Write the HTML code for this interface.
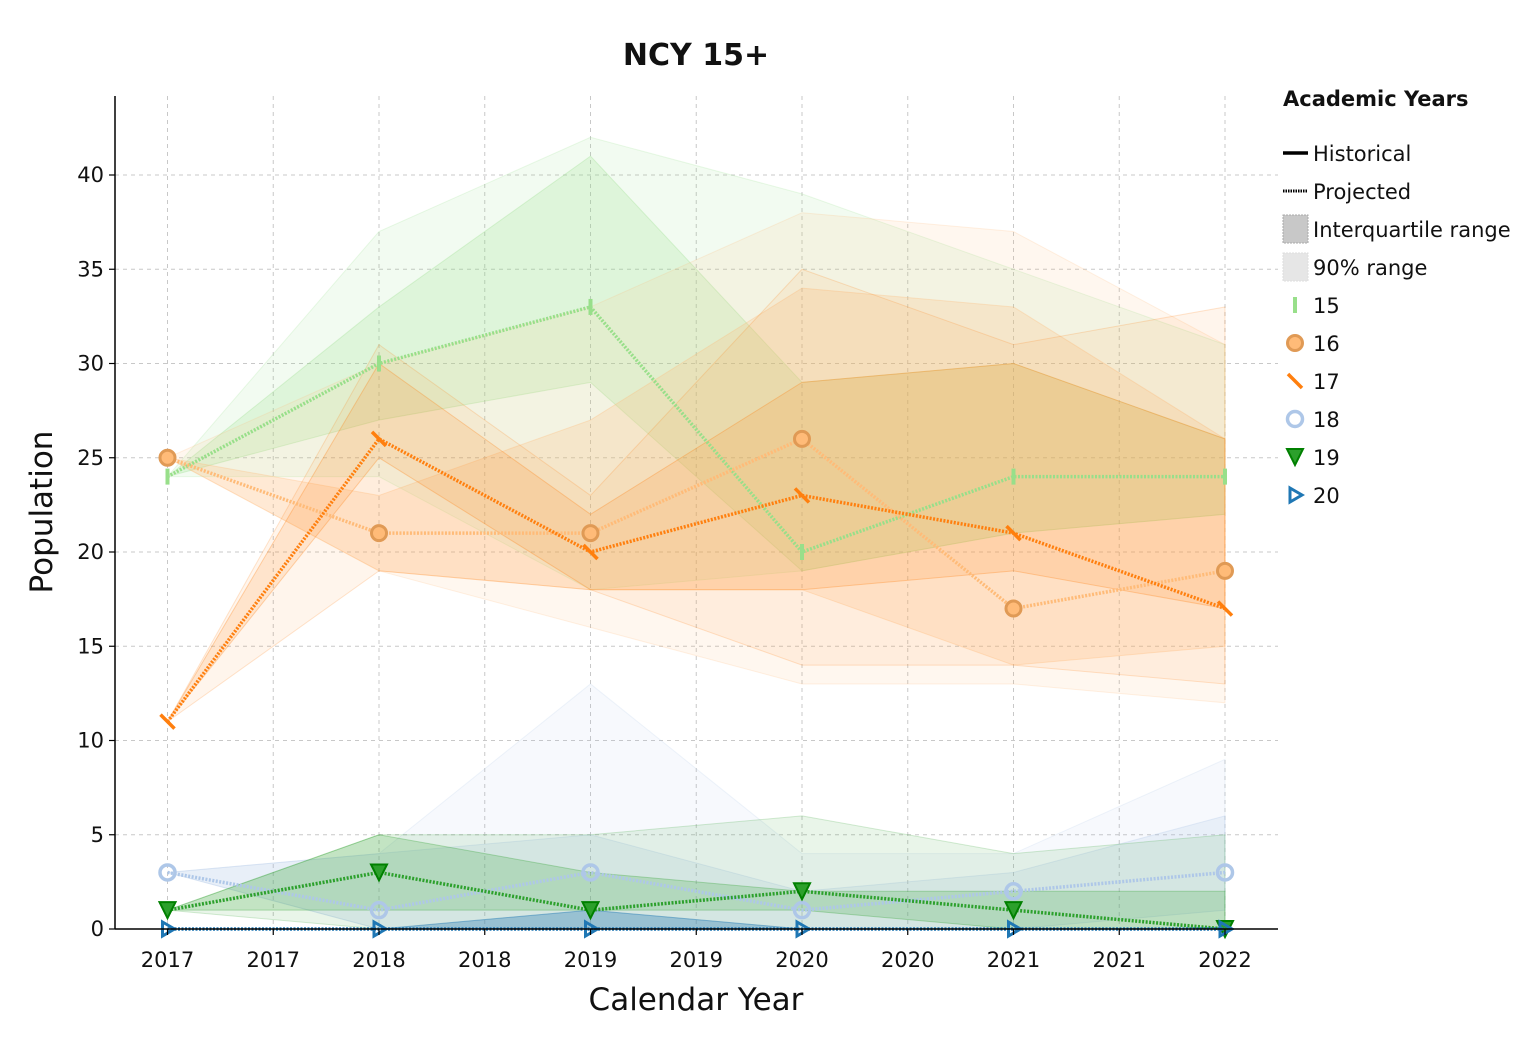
<!DOCTYPE html>
<html><head><meta charset="utf-8">
<style>
html,body{margin:0;padding:0;background:#fff;}
svg text{font-family:"DejaVu Sans","Liberation Sans",sans-serif;fill:#111;}
</style></head>
<body>
<svg id="chart" width="1539" height="1037" xmlns="http://www.w3.org/2000/svg">
<text x="696" y="65" font-size="30" font-weight="bold" text-anchor="middle">NCY 15+</text>
<g id="grid"></g>
<g id="bands"></g>
<g id="lines"></g>
<g id="axes"></g>
<text transform="translate(52,512) rotate(-90)" font-size="31" text-anchor="middle">Population</text>
<text x="696" y="1010" font-size="31" text-anchor="middle">Calendar Year</text>
<g id="legend"></g>
</svg>
<script>
const years = [2017, 2018, 2019, 2020, 2021, 2022];
const xTickLabels = ["2017","2017","2018","2018","2019","2019","2020","2020","2021","2021","2022"];
const yTicks = [0, 5, 10, 15, 20, 25, 30, 35, 40];
const seriesNames = ["15","16","17","18","19","20"];
const s15 = [24, 30, 33, 20, 24, 24];
const s16 = [25, 21, 21, 26, 17, 19];
const s17 = [11, 26, 20, 23, 21, 17];
const s18 = [3, 1, 3, 1, 2, 3];
const s19 = [1, 3, 1, 2, 1, 0];
const s20 = [0, 0, 0, 0, 0, 0];
const q05_15 = [24, 24, 18, 19, 21, 22], q25_15 = [24, 27, 29, 19, 21, 22], q75_15 = [24, 33, 41, 29, 30, 26], q95_15 = [24, 37, 42, 39, 35, 31];
const q05_16 = [25, 19, 16, 13, 13, 12], q25_16 = [25, 19, 18, 18, 14, 15], q75_16 = [25, 23, 27, 34, 33, 26], q95_16 = [25, 30, 33, 38, 37, 31];
const q05_17 = [11, 19, 18, 14, 14, 13], q25_17 = [11, 25, 18, 18, 19, 17], q75_17 = [11, 30, 22, 29, 30, 26], q95_17 = [11, 31, 23, 35, 31, 33];
const q05_18 = [3, 0, 0, 0, 0, 0], q25_18 = [3, 0, 0, 0, 0, 1], q75_18 = [3, 4, 5, 2, 3, 6], q95_18 = [3, 4, 13, 4, 4, 9];
const q05_19 = [1, 0, 0, 0, 0, 0], q25_19 = [1, 1, 1, 1, 0, 0], q75_19 = [1, 5, 3, 2, 2, 2], q95_19 = [1, 5, 5, 6, 4, 5];
const q05_20 = [0, 0, 0, 0, 0, 0], q25_20 = [0, 0, 0, 0, 0, 0], q75_20 = [0, 0, 1, 0, 0, 0], q95_20 = [0, 0, 1, 0, 0, 0];

const NS = "http://www.w3.org/2000/svg";
const X0 = 115, X1 = 1278, YT = 96, YB = 929;
function xs(yr){ return 167.5 + (yr - 2017) * 211.5; }
function ys(v){ return 929 - v * 18.85; }
function mk(tag, attrs, parent){ const e = document.createElementNS(NS, tag); for (const k in attrs) e.setAttribute(k, attrs[k]); parent.appendChild(e); return e; }

const grid = document.getElementById('grid');
const axes = document.getElementById('axes');
for (let i = 0; i < xTickLabels.length; i++) {
  const yr = 2017 + i * 0.5, x = xs(yr);
  const gl = mk('line', {x1:x, x2:x, y1:YT, y2:YB, stroke:'#c8c8c8', 'stroke-dasharray':'4,4', 'stroke-width':1}, grid);
  
  
  const tk = mk('line', {x1:x, x2:x, y1:YB, y2:YB+6, stroke:'#000', 'stroke-width':1.2}, axes);
  
  
  const t = mk('text', {x:x, y:967, 'font-size':21, 'text-anchor':'middle'}, axes);
  t.textContent = xTickLabels[i];
  
  
}
for (const v of yTicks) {
  const y = ys(v);
  const gl = mk('line', {x1:X0, x2:X1, y1:y, y2:y, stroke:'#c8c8c8', 'stroke-dasharray':'4,4', 'stroke-width':1}, grid);
  
  
  const tk = mk('line', {x1:X0-6, x2:X0, y1:y, y2:y, stroke:'#000', 'stroke-width':1.2}, axes);
  
  
  const t = mk('text', {x:104, y:y+7, 'font-size':21, 'text-anchor':'end'}, axes);
  t.textContent = String(v);
  
  
}
const sp1 = mk('line', {x1:X0, x2:X0, y1:YT, y2:YB, stroke:'#000', 'stroke-width':1.5}, axes);


const sp2 = mk('line', {x1:X0, x2:X1, y1:YB, y2:YB, stroke:'#000', 'stroke-width':1.5}, axes);



const series = [
  {name:'15', vals:s15, q05:q05_15, q25:q25_15, q75:q75_15, q95:q95_15, band:'#98df8a', line:'#98df8a', mark:'tick'},
  {name:'16', vals:s16, q05:q05_16, q25:q25_16, q75:q75_16, q95:q95_16, band:'#ffbb78', line:'#ffbb78', mark:'circle'},
  {name:'17', vals:s17, q05:q05_17, q25:q25_17, q75:q75_17, q95:q95_17, band:'#ff7f0e', line:'#ff7f0e', mark:'slash'},
  {name:'18', vals:s18, q05:q05_18, q25:q25_18, q75:q75_18, q95:q95_18, band:'#aec7e8', line:'#aec7e8', mark:'ring'},
  {name:'19', vals:s19, q05:q05_19, q25:q25_19, q75:q75_19, q95:q95_19, band:'#2ca02c', line:'#2ca02c', mark:'tri'},
  {name:'20', vals:s20, q05:q05_20, q25:q25_20, q75:q75_20, q95:q95_20, band:'#1f77b4', line:'#1f77b4', mark:'play'}
];
const bandOp90 = {'15':0.12,'16':0.12,'17':0.08,'18':0.1,'19':0.1,'20':0.1};
const bandOpIqr = {'15':0.22,'16':0.22,'17':0.14,'18':0.2,'19':0.2,'20':0.25};
function bandPath(lo, hi){
  let d = '';
  years.forEach((yr,i)=>{ d += (i?'L':'M') + xs(yr) + ',' + ys(hi[i]); });
  for (let i = years.length-1; i >= 0; i--) d += 'L' + xs(years[i]) + ',' + ys(lo[i]);
  return d + 'Z';
}
const bands = document.getElementById('bands');
const lines = document.getElementById('lines');
function drawMarker(s, x, y, parent){
  let m;
  if (s.mark === 'tick') m = mk('line', {x1:x, x2:x, y1:y-8, y2:y+8, stroke:'#98df8a', 'stroke-width':4}, parent);
  else if (s.mark === 'circle') m = mk('circle', {cx:x, cy:y, r:7.5, fill:'#ffbb78', stroke:'#e09a55', 'stroke-width':3}, parent);
  else if (s.mark === 'slash') m = mk('line', {x1:x-7, y1:y-7, x2:x+7, y2:y+7, stroke:'#ff7f0e', 'stroke-width':3.5}, parent);
  else if (s.mark === 'ring') m = mk('circle', {cx:x, cy:y, r:7.5, fill:'none', stroke:'#aec7e8', 'stroke-width':3.5}, parent);
  else if (s.mark === 'tri') m = mk('path', {d:`M${x-8},${y-8}L${x+8},${y-8}L${x},${y+8}Z`, fill:'#2ca02c', stroke:'#008000', 'stroke-width':2}, parent);
  else m = mk('path', {d:`M${x-5},${y-7}L${x+7},${y}L${x-5},${y+7}Z`, fill:'none', stroke:'#1f77b4', 'stroke-width':3}, parent);
  return m;
}
series.forEach(s=>{
  const b1 = mk('path', {d:bandPath(s.q05, s.q95), fill:s.band, 'fill-opacity':bandOp90[s.name], stroke:s.band, 'stroke-opacity':0.2}, bands);
  
  
  const b2 = mk('path', {d:bandPath(s.q25, s.q75), fill:s.band, 'fill-opacity':bandOpIqr[s.name], stroke:s.band, 'stroke-opacity':0.3}, bands);
  
  
  const pts = years.map((yr,i)=> xs(yr) + ',' + ys(s.vals[i])).join(' ');
  const pl = mk('polyline', {points:pts, fill:'none', stroke:s.line, 'stroke-width':3.5, 'stroke-dasharray':'2,1.5'}, lines);
  
  
  years.forEach((yr,i)=>{
    const m = drawMarker(s, xs(yr), ys(s.vals[i]), lines);
    
    
  });
});

const lg = document.getElementById('legend');
const lt = mk('text', {x:1283, y:106, 'font-size':21, 'font-weight':'bold'}, lg);
lt.textContent = 'Academic Years';


const legendLabels = ['Historical','Projected','Interquartile range','90% range'];
legendLabels.forEach((lab,i)=>{
  const y = 153 + i*38;
  let m;
  if (i === 0) m = mk('line', {x1:1283, x2:1308, y1:y, y2:y, stroke:'#000', 'stroke-width':3.5}, lg);
  else if (i === 1) m = mk('line', {x1:1283, x2:1308, y1:y, y2:y, stroke:'#000', 'stroke-width':3, 'stroke-dasharray':'1.5,1'}, lg);
  else if (i === 2) m = mk('rect', {x:1283, y:y-14, width:25, height:28, fill:'#c8c8c8', stroke:'#aaa', 'stroke-dasharray':'2,1'}, lg);
  else m = mk('rect', {x:1283, y:y-14, width:25, height:28, fill:'#e6e6e6', stroke:'#ddd', 'stroke-dasharray':'2,1'}, lg);
  
  
  const t = mk('text', {x:1313, y:y+8, 'font-size':21}, lg);
  t.textContent = lab;
  
  
});
series.forEach((s,i)=>{
  const y = 305 + i*38;
  const m = drawMarker(s, 1295, y, lg);
  
  
  const t = mk('text', {x:1313, y:y+8, 'font-size':21}, lg);
  t.textContent = seriesNames[i];
  
  
});
</script>
</body></html>
